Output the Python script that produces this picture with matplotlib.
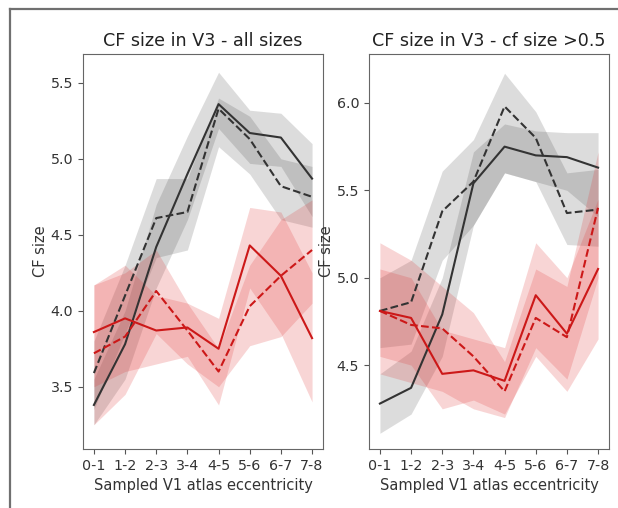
import matplotlib
matplotlib.use("Agg")
import matplotlib.pyplot as plt
from matplotlib.lines import Line2D
import numpy as np

categories = ["0-1", "1-2", "2-3", "3-4", "4-5", "5-6", "6-7", "7-8"]

# Left panel: all sizes
L_black_solid = [3.38, 3.78, 4.42, 4.90, 5.36, 5.17, 5.14, 4.87]
L_black_solid_lo = [3.25, 3.55, 4.15, 4.60, 5.20, 4.97, 4.95, 4.62]
L_black_solid_hi = [3.55, 4.00, 4.70, 5.15, 5.57, 5.32, 5.30, 5.10]
L_black_dash = [3.59, 4.10, 4.61, 4.65, 5.33, 5.13, 4.82, 4.75]
L_black_dash_lo = [3.35, 3.85, 4.35, 4.40, 5.08, 4.90, 4.60, 4.55]
L_black_dash_hi = [3.80, 4.30, 4.87, 4.87, 5.40, 5.28, 5.00, 4.95]
L_red_solid = [3.86, 3.95, 3.87, 3.89, 3.75, 4.43, 4.23, 3.82]
L_red_solid_lo = [3.50, 3.60, 3.65, 3.70, 3.38, 4.15, 3.85, 3.40]
L_red_solid_hi = [4.17, 4.30, 4.10, 4.05, 3.95, 4.68, 4.65, 4.25]
L_red_dash = [3.72, 3.83, 4.13, 3.87, 3.60, 4.03, 4.23, 4.40]
L_red_dash_lo = [3.25, 3.45, 3.85, 3.65, 3.50, 3.77, 3.83, 4.05]
L_red_dash_hi = [4.17, 4.25, 4.40, 4.05, 3.75, 4.30, 4.60, 4.73]

# Right panel: cf size > 0.5
R_black_solid = [4.28, 4.37, 4.79, 5.54, 5.75, 5.70, 5.69, 5.63]
R_black_solid_lo = [4.11, 4.22, 4.55, 5.30, 5.60, 5.55, 5.50, 5.35]
R_black_solid_hi = [4.45, 4.58, 5.00, 5.72, 5.88, 5.84, 5.83, 5.83]
R_black_dash = [4.81, 4.86, 5.38, 5.55, 5.98, 5.80, 5.37, 5.39]
R_black_dash_lo = [4.60, 4.62, 5.10, 5.30, 5.60, 5.55, 5.19, 5.18]
R_black_dash_hi = [5.00, 5.10, 5.61, 5.79, 6.17, 5.95, 5.60, 5.62]
R_red_solid = [4.81, 4.77, 4.45, 4.47, 4.41, 4.90, 4.68, 5.05]
R_red_solid_lo = [4.55, 4.50, 4.25, 4.30, 4.22, 4.55, 4.35, 4.65]
R_red_solid_hi = [5.05, 5.00, 4.70, 4.65, 4.60, 5.20, 5.00, 5.45]
R_red_dash = [4.81, 4.73, 4.71, 4.55, 4.35, 4.77, 4.66, 5.40]
R_red_dash_lo = [4.45, 4.40, 4.35, 4.25, 4.20, 4.60, 4.42, 5.00]
R_red_dash_hi = [5.20, 5.10, 4.95, 4.80, 4.52, 5.05, 4.95, 5.72]

titles = ["CF size in V3 - all sizes", "CF size in V3 - cf size >0.5"]

BLACK = "#333333"
RED = "#cc1818"
BAND_RED = "#e03030"

fig = plt.figure(figsize=(6.18, 5.08), dpi=100)
ax1 = fig.add_axes([0.1343, 0.1161, 0.3883, 0.7776])
ax2 = fig.add_axes([0.5971, 0.1161, 0.3883, 0.7776])

x = np.arange(len(categories))

def draw(ax, series):
    for mean, lo, hi, line_c, band_c, ls, a in series:
        ax.fill_between(x, lo, hi, color=band_c, alpha=a, linewidth=0)
    for mean, lo, hi, line_c, band_c, ls, a in series:
        ax.plot(x, mean, color=line_c, linestyle=ls, linewidth=1.5)

draw(ax1, [
    (L_black_solid, L_black_solid_lo, L_black_solid_hi, BLACK, BLACK, "-", 0.17),
    (L_black_dash, L_black_dash_lo, L_black_dash_hi, BLACK, BLACK, "--", 0.17),
    (L_red_solid, L_red_solid_lo, L_red_solid_hi, RED, BAND_RED, "-", 0.2),
    (L_red_dash, L_red_dash_lo, L_red_dash_hi, RED, BAND_RED, "--", 0.2),
])
draw(ax2, [
    (R_black_solid, R_black_solid_lo, R_black_solid_hi, BLACK, BLACK, "-", 0.17),
    (R_black_dash, R_black_dash_lo, R_black_dash_hi, BLACK, BLACK, "--", 0.17),
    (R_red_solid, R_red_solid_lo, R_red_solid_hi, RED, BAND_RED, "-", 0.2),
    (R_red_dash, R_red_dash_lo, R_red_dash_hi, RED, BAND_RED, "--", 0.2),
])

ax1.set_ylim(3.09, 5.69)
ax1.set_yticks([3.5, 4.0, 4.5, 5.0, 5.5])
ax2.set_ylim(4.02, 6.28)
ax2.set_yticks([4.5, 5.0, 5.5, 6.0])

for ax, t in zip((ax1, ax2), titles):
    ax.set_xticks(x)
    ax.set_xticklabels(categories, fontsize=10.3, color="#333333")
    ax.tick_params(axis="y", labelsize=10.3, labelcolor="#333333", color="#555555")
    ax.tick_params(axis="x", color="#555555")
    ax.set_title(t, fontsize=12.6, color="#222222", pad=6)
    ax.set_xlabel("Sampled V1 atlas eccentricity", fontsize=10.5, color="#333333")
    ax.set_ylabel("CF size", fontsize=10.5, color="#333333", labelpad=2)
    for s in ax.spines.values():
        s.set_color("#666666")

# outer screenshot frame
fig.add_artist(Line2D([10 / 618, 1.0], [1 - 8.5 / 508, 1 - 8.5 / 508],
                      transform=fig.transFigure, color="#707070", linewidth=1.6))
fig.add_artist(Line2D([10 / 618, 10 / 618], [0.0, 1 - 8.5 / 508],
                      transform=fig.transFigure, color="#707070", linewidth=1.6))

fig.savefig("out.png", dpi=100)
